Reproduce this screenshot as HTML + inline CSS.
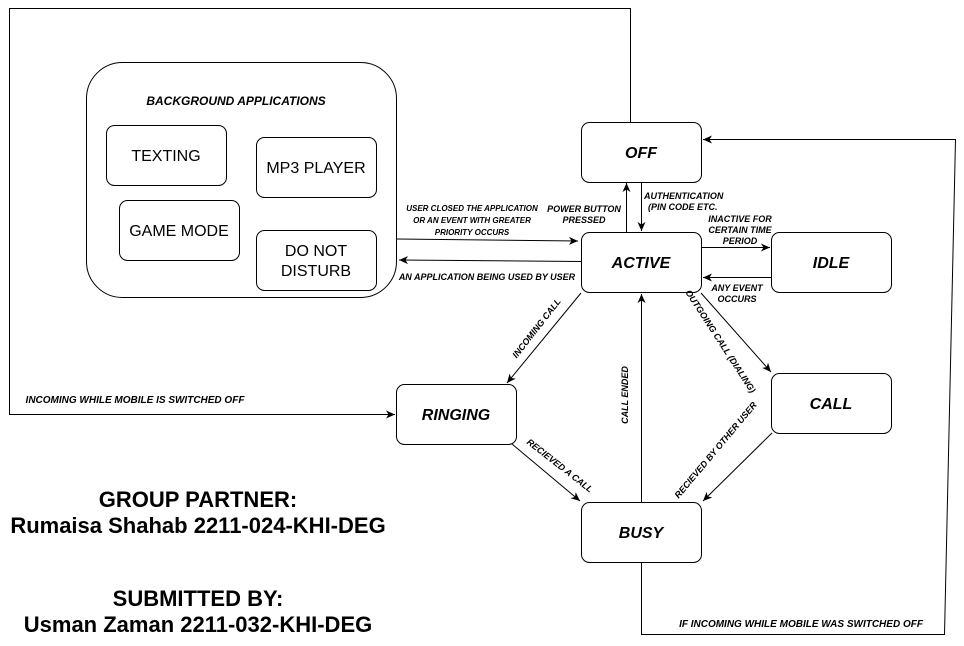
<!DOCTYPE html>
<html><head><style>
body{margin:0;background:#fff}
svg{display:block}
text{font-family:"Liberation Sans",sans-serif}
.s{font-size:9px;font-weight:bold;font-style:italic}
.xs{font-size:8px;font-weight:bold;font-style:italic}
.n{font-size:16px;font-weight:bold;font-style:italic}
.b{font-size:16px}
.g{font-size:22px;font-weight:bold}
</style></head><body>
<svg width="964" height="646" viewBox="0 0 964 646" xmlns="http://www.w3.org/2000/svg">
<defs><marker id="a" markerWidth="10" markerHeight="10" refX="9" refY="5" orient="auto" markerUnits="userSpaceOnUse"><path d="M0,1 L9,5 L0,9 L2.5,5 Z" fill="#000"/></marker></defs>
<g fill="none" stroke="#000" stroke-width="1">
<polyline points="630.5,122 630.5,8.5 9.5,8.5 9.5,414.5 395,414.5" marker-end="url(#a)"/>
<rect x="86.5" y="62.5" width="310" height="235" rx="36"/>
<rect x="106.5" y="125.5" width="120" height="60" rx="8"/>
<rect x="256.5" y="137.5" width="120" height="60" rx="8"/>
<rect x="119.5" y="200.5" width="120" height="60" rx="8"/>
<rect x="256.5" y="230.5" width="120" height="60" rx="8"/>
<rect x="581.5" y="122.5" width="120" height="60" rx="8"/>
<rect x="581.5" y="232.5" width="120" height="60" rx="8"/>
<rect x="771.5" y="232.5" width="120" height="60" rx="8"/>
<rect x="771.5" y="373.5" width="120" height="60" rx="8"/>
<rect x="396.5" y="384.5" width="120" height="60" rx="8"/>
<rect x="581.5" y="502.5" width="120" height="60" rx="8"/>
<line x1="626.5" y1="232" x2="626.5" y2="183" marker-end="url(#a)"/>
<line x1="641.5" y1="183" x2="641.5" y2="231" marker-end="url(#a)"/>
<line x1="702" y1="247.5" x2="770" y2="247.5" marker-end="url(#a)"/>
<line x1="771" y1="277.5" x2="703" y2="277.5" marker-end="url(#a)"/>
<line x1="397" y1="239" x2="578" y2="241" marker-end="url(#a)"/>
<line x1="581" y1="261.5" x2="399" y2="260" marker-end="url(#a)"/>
<line x1="581" y1="293" x2="507" y2="383" marker-end="url(#a)"/>
<line x1="701" y1="293" x2="771" y2="372" marker-end="url(#a)"/>
<line x1="641.5" y1="502" x2="641.5" y2="294" marker-end="url(#a)"/>
<line x1="512" y1="444" x2="580" y2="501" marker-end="url(#a)"/>
<line x1="772" y1="433" x2="703" y2="501" marker-end="url(#a)"/>
<polyline points="641.5,563 641.5,634.5 944.5,634.5 955.5,139.5 703,139.5" marker-end="url(#a)"/>
</g>
<g text-anchor="middle">
<text class="xs" x="236" y="105" style="font-size:12px">BACKGROUND APPLICATIONS</text>
<text class="b" x="166" y="161">TEXTING</text>
<text class="b" x="316" y="173">MP3 PLAYER</text>
<text class="b" x="179" y="236">GAME MODE</text>
<text class="b" x="316" y="256">DO NOT</text>
<text class="b" x="316" y="276">DISTURB</text>
<text class="n" x="641" y="158">OFF</text>
<text class="n" x="641" y="268">ACTIVE</text>
<text class="n" x="831" y="268">IDLE</text>
<text class="n" x="831" y="409">CALL</text>
<text class="n" x="456" y="420">RINGING</text>
<text class="n" x="641" y="538">BUSY</text>
<text class="xs" x="472" y="211">USER CLOSED THE APPLICATION</text>
<text class="xs" x="472" y="223">OR AN EVENT WITH GREATER</text>
<text class="xs" x="472" y="235">PRIORITY OCCURS</text>
<text class="s" x="584" y="212">POWER BUTTON</text>
<text class="s" x="584" y="223">PRESSED</text>
<text class="s" x="740" y="222">INACTIVE FOR</text>
<text class="s" x="740" y="233">CERTAIN TIME</text>
<text class="s" x="740" y="244">PERIOD</text>
<text class="s" x="737" y="291">ANY EVENT</text>
<text class="s" x="737" y="302">OCCURS</text>
<text class="s" x="487" y="280">AN APPLICATION BEING USED BY USER</text>
<text class="s" x="135" y="403" style="font-size:10px">INCOMING WHILE MOBILE IS SWITCHED OFF</text>
<text class="s" x="801" y="627" style="font-size:10px">IF INCOMING WHILE MOBILE WAS SWITCHED OFF</text>
<text class="g" x="198" y="507">GROUP PARTNER:</text>
<text class="g" x="198" y="533">Rumaisa Shahab 2211-024-KHI-DEG</text>
<text class="g" x="198" y="606">SUBMITTED BY:</text>
<text class="g" x="198" y="632">Usman Zaman 2211-032-KHI-DEG</text>
<text class="s" transform="translate(539,330) rotate(-52)">INCOMING CALL</text>
<text class="s" transform="translate(718,343) rotate(57)">OUTGOING CALL (DIALING)</text>
<text class="s" transform="translate(628,395) rotate(-90)">CALL ENDED</text>
<text class="s" transform="translate(558,468) rotate(38)">RECIEVED A CALL</text>
<text class="s" transform="translate(718,452) rotate(-50)">RECIEVED BY OTHER USER</text>
</g>
<text class="s" x="644" y="199">AUTHENTICATION</text>
<text class="s" x="648" y="210">(PIN CODE ETC.</text>
</svg>
</body></html>
